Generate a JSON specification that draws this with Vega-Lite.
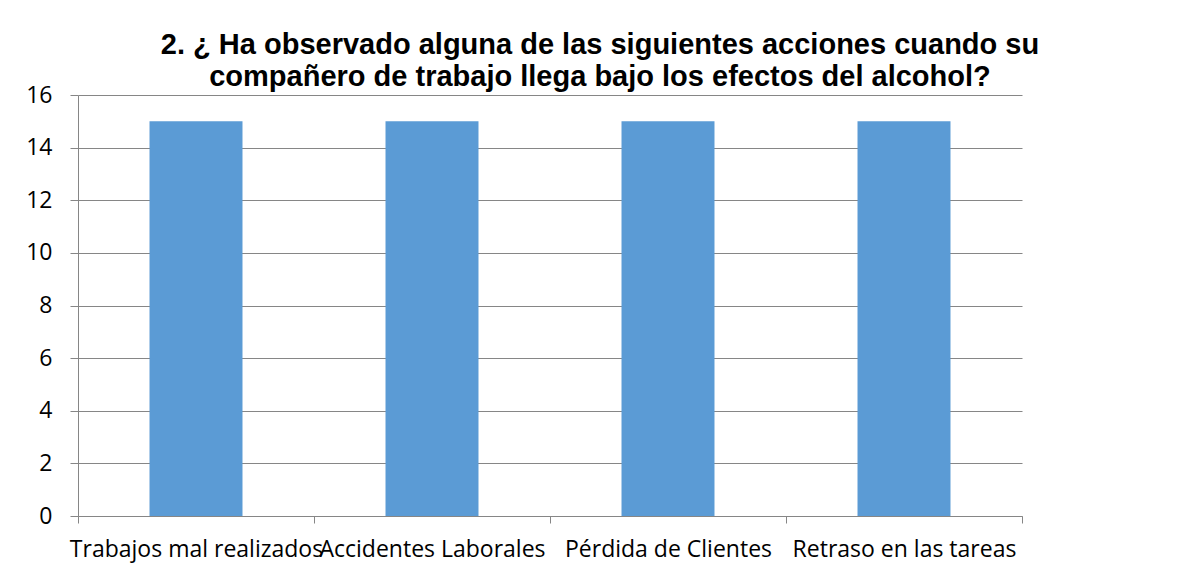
{
  "$schema": "https://vega.github.io/schema/vega-lite/v6.json",
  "autosize": "none",
  "width": 944,
  "height": 421,
  "padding": {"left": 78, "top": 95, "right": 162, "bottom": 68},
  "background": "white",
  "title": {
    "text": ["2. ¿ Ha observado alguna de las siguientes acciones cuando su", "compañero de trabajo llega bajo los efectos del alcohol?"],
    "font": "Liberation Sans",
    "fontSize": 29,
    "fontWeight": "bold",
    "color": "#000000",
    "lineHeight": 32,
    "anchor": "middle",
    "frame": "group",
    "dx": 50,
    "offset": -8
  },
  "data": {
    "values": [
      {"accion": "Trabajos mal realizados", "valor": 15},
      {"accion": "Accidentes Laborales", "valor": 15},
      {"accion": "Pérdida de Clientes", "valor": 15},
      {"accion": "Retraso en las tareas", "valor": 15}
    ]
  },
  "mark": {"type": "bar", "color": "#5B9BD5", "width": {"band": 0.394}},
  "encoding": {
    "x": {
      "field": "accion",
      "type": "nominal",
      "sort": null,
      "title": null,
      "scale": {"paddingInner": 0, "paddingOuter": 0},
      "axis": {
        "labelAngle": 0,
        "labelFont": "Open Sans",
        "labelFontSize": 23,
        "labelColor": "#000000",
        "labelPadding": 15,
        "labelLimit": 0,
        "tickBand": "extent",
        "tickSize": 7,
        "tickColor": "#868686",
        "domainColor": "#868686",
        "labelOverlap": false,
        "labelBound": false
      }
    },
    "y": {
      "field": "valor",
      "type": "quantitative",
      "title": null,
      "scale": {"domain": [0, 16]},
      "axis": {
        "values": [0, 2, 4, 6, 8, 10, 12, 14, 16],
        "labelFont": "Open Sans",
        "labelFontSize": 23,
        "labelColor": "#000000",
        "labelPadding": 18,
        "tickSize": 8,
        "tickColor": "#868686",
        "domainColor": "#868686",
        "gridColor": "#868686",
        "gridOpacity": 1
      }
    }
  },
  "config": {
    "view": {"stroke": null}
  }
}
